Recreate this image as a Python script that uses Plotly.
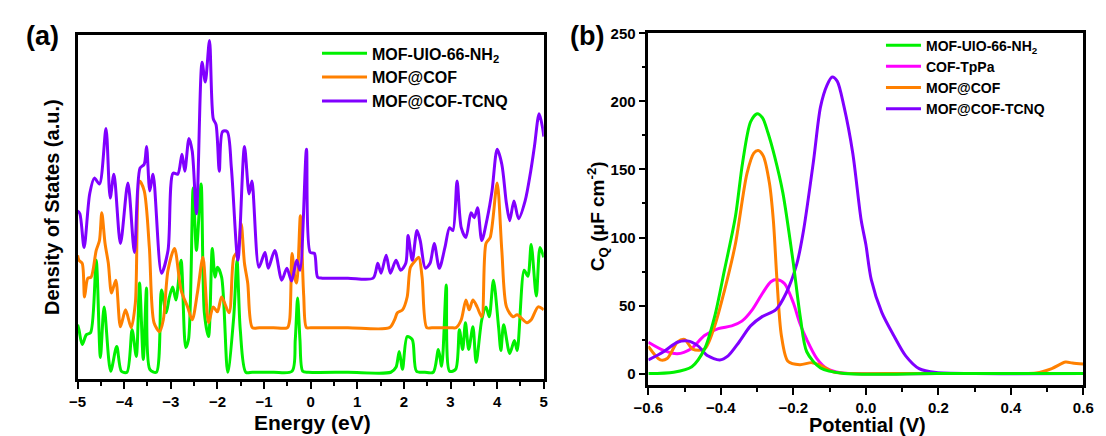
import plotly.graph_objects as go

W, H = 1106, 436

# ---------------- Panel (a): DOS ----------------
dos_green_E = [-5.00, -4.97, -4.90, -4.81, -4.72, -4.60, -4.51, -4.43, -4.29, -4.16, -4.06, -3.94, -3.83, -3.74,
               -3.67, -3.59, -3.52, -3.45, -3.31, -3.20, -3.10, -3.03, -2.96, -2.89, -2.78, -2.68, -2.62, -2.52,
               -2.45, -2.35, -2.28, -2.19, -2.11, -2.05, -2.00, -1.91, -1.78, -1.65, -1.58, -1.51, -1.39, -1.25,
               -0.80, -0.40, -0.33, -0.28, -0.23, -0.17, -0.05, 0.80, 1.72, 1.83, 1.90, 1.97, 2.07, 2.18, 2.27,
               2.45, 2.63, 2.74, 2.81, 2.91, 2.98, 3.11, 3.19, 3.26, 3.32, 3.39, 3.48, 3.55, 3.67, 3.76, 3.83,
               3.92, 4.03, 4.08, 4.14, 4.27, 4.37, 4.43, 4.58, 4.66, 4.73, 4.84, 4.92, 5.00]
dos_green_v = [55, 50, 35, 45, 47, 120, 22, 73, 8, 33, 8, 7, 50, 23,
               97, 20, 92, 10, 7, 90, 67, 83, 93, 80, 120, 32, 40, 193,
               130, 197, 67, 43, 132, 103, 113, 103, 7, 63, 120, 50, 7, 7,
               7, 8, 40, 82, 40, 8, 7, 7, 7, 12, 28, 10, 43, 40, 8,
               7, 7, 30, 13, 95, 8, 10, 50, 30, 57, 30, 53, 17, 60, 73, 63,
               100, 53, 29, 55, 26, 39, 29, 110, 104, 136, 84, 133, 123]

dos_orange_E = [-5.00, -4.97, -4.90, -4.85, -4.78, -4.71, -4.60, -4.53, -4.48, -4.41, -4.34, -4.27, -4.18, -4.08,
                -3.97, -3.85, -3.76, -3.67, -3.57, -3.46, -3.36, -3.24, -3.16, -3.06, -2.92, -2.78, -2.64, -2.54,
                -2.43, -2.31, -2.19, -2.09, -2.00, -1.91, -1.75, -1.65, -1.56, -1.49, -1.42, -1.35, -1.25, -1.10,
                -0.80, -0.50, -0.45, -0.40, -0.33, -0.30, -0.22, -0.15, -0.09, 0.00, 0.80, 1.69, 1.80, 1.86, 1.97,
                2.07, 2.14, 2.25, 2.32, 2.39, 2.49, 2.60, 3.00, 3.12, 3.23, 3.33, 3.40, 3.48, 3.57, 3.67, 3.76,
                3.85, 4.00, 4.10, 4.20, 4.34, 4.43, 4.64, 4.73, 4.88, 5.00]
dos_orange_v = [125, 120, 117, 83, 102, 103, 130, 140, 168, 137, 117, 87, 100, 53,
                70, 52, 77, 200, 190, 133, 57, 48, 60, 110, 132, 90, 73, 60,
                87, 123, 57, 73, 68, 83, 67, 123, 130, 157, 117, 97, 52, 52,
                52, 52, 60, 127, 100, 97, 165, 85, 52, 52, 52, 52, 60, 67, 70,
                83, 113, 120, 123, 103, 52, 52, 52, 52, 60, 80, 70, 80, 73, 63, 137,
                143, 198, 130, 73, 63, 65, 57, 60, 73, 70]

dos_purple_E = [-5.00, -4.95, -4.86, -4.74, -4.64, -4.53, -4.39, -4.30, -4.22, -4.08, -3.92, -3.78, -3.66, -3.57,
                -3.52, -3.45, -3.38, -3.20, -3.06, -2.95, -2.85, -2.76, -2.70, -2.61, -2.54, -2.45, -2.33, -2.26,
                -2.17, -2.09, -2.03, -1.96, -1.89, -1.79, -1.70, -1.56, -1.42, -1.32, -1.26, -1.11, -0.98, -0.91,
                -0.77, -0.62, -0.51, -0.41, -0.30, -0.23, -0.09, -0.01, 0.08, 0.15, 0.25, 0.80, 1.34, 1.44, 1.51,
                1.62, 1.71, 1.83, 1.93, 2.04, 2.09, 2.18, 2.28, 2.35, 2.46, 2.56, 2.65, 2.76, 2.88, 2.98, 3.05,
                3.14, 3.23, 3.33, 3.44, 3.51, 3.58, 3.67, 3.79, 3.89, 4.00, 4.10, 4.20, 4.27, 4.36, 4.46, 4.60,
                4.72, 4.80, 4.90, 4.97, 5.00]
dos_purple_v = [170, 167, 133, 187, 203, 197, 253, 183, 207, 137, 198, 128, 213, 217,
                235, 190, 207, 107, 130, 208, 207, 227, 210, 243, 230, 167, 320, 300,
                342, 263, 257, 210, 250, 250, 213, 120, 235, 187, 200, 113, 128, 112,
                130, 100, 112, 99, 120, 110, 232, 128, 127, 103, 102, 102, 102, 117, 107,
                125, 107, 120, 110, 117, 145, 120, 150, 140, 112, 117, 137, 112, 133, 153, 150,
                200, 153, 143, 168, 163, 173, 140, 163, 190, 232, 217, 177, 160, 180, 162, 180,
                210, 235, 268, 255, 245]

energy_ticks = list(range(-5, 6))

# ---------------- Panel (b): quantum capacitance ----------------
cq_green_V = [-0.60, -0.53, -0.48, -0.445, -0.417, -0.39, -0.36, -0.34, -0.318, -0.30, -0.285, -0.27, -0.252,
              -0.229, -0.20, -0.18, -0.163, -0.125, -0.06, 0.20, 0.60]
cq_green_y = [0, 1, 5, 18, 42, 76, 115, 155, 185, 191, 188, 177, 160,
              133, 81, 40, 16, 4, 0, 0, 0]

cq_magenta_V = [-0.60, -0.558, -0.52, -0.483, -0.445, -0.407, -0.37, -0.342, -0.313, -0.285, -0.262, -0.243,
                -0.224, -0.20, -0.182, -0.163, -0.135, -0.107, -0.07, 0.20, 0.60]
cq_magenta_y = [23, 17, 14.5, 18, 28, 33, 35, 38.5, 47, 59, 67.5, 69,
                66, 52, 37, 25, 11, 3.6, 0.5, 0, 0]

cq_orange_V = [-0.60, -0.567, -0.548, -0.52, -0.50, -0.478, -0.445, -0.417, -0.39, -0.36, -0.328, -0.309,
               -0.297, -0.283, -0.266, -0.255, -0.245, -0.233, -0.215, -0.182, -0.149, -0.125, -0.088, -0.04,
               0.10, 0.25, 0.40, 0.47, 0.513, 0.551, 0.57, 0.60]
cq_orange_y = [20, 10, 11, 23, 25, 18, 18, 35, 61, 95, 147, 162,
               164, 160, 140, 112, 68, 28, 9, 6.5, 8, 6, 1, 0,
               0, 0, 0, 0.3, 3.6, 8.4, 7.7, 7]

cq_purple_V = [-0.60, -0.558, -0.52, -0.492, -0.464, -0.436, -0.403, -0.38, -0.35, -0.318, -0.285, -0.248,
               -0.22, -0.19, -0.172, -0.144, -0.125, -0.107, -0.093, -0.079, -0.06, -0.036, -0.013, 0.0,
               0.015, 0.044, 0.077, 0.11, 0.147, 0.194, 0.30, 0.60]
cq_purple_y = [10, 16, 23, 24, 20.5, 13, 10, 13, 23, 35, 42, 47,
               59, 81, 105, 157, 196, 212, 218, 215, 196, 162, 113, 95,
               69, 45, 28, 13, 3.6, 0.7, 0, 0]

pot_ticks = [-0.6, -0.4, -0.2, 0.0, 0.2, 0.4, 0.6]
cq_ticks = [0, 50, 100, 150, 200, 250]

GREEN = "#00F000"
ORANGE = "#FF8000"
PURPLE = "#8000FF"
MAGENTA = "#FF00FF"
FONT = "Arial"


def px(x):
    return x / W


def py(y):
    return 1 - y / H


fig = go.Figure()
lw = 3
spl = dict(width=lw, shape="spline", smoothing=0.8)

fig.add_trace(go.Scatter(x=dos_green_E, y=dos_green_v, mode="lines", name="MOF-UIO-66-NH<sub>2</sub>",
                         line=dict(color=GREEN, **spl), xaxis="x", yaxis="y", legend="legend"))
fig.add_trace(go.Scatter(x=dos_orange_E, y=dos_orange_v, mode="lines", name="MOF@COF",
                         line=dict(color=ORANGE, **spl), xaxis="x", yaxis="y", legend="legend"))
fig.add_trace(go.Scatter(x=dos_purple_E, y=dos_purple_v, mode="lines", name="MOF@COF-TCNQ",
                         line=dict(color=PURPLE, **spl), xaxis="x", yaxis="y", legend="legend"))

fig.add_trace(go.Scatter(x=cq_magenta_V, y=cq_magenta_y, mode="lines", name="COF-TpPa", legendrank=2,
                         line=dict(color=MAGENTA, **spl), xaxis="x2", yaxis="y2", legend="legend2"))
fig.add_trace(go.Scatter(x=cq_orange_V, y=cq_orange_y, mode="lines", name="MOF@COF", legendrank=3,
                         line=dict(color=ORANGE, **spl), xaxis="x2", yaxis="y2", legend="legend2"))
fig.add_trace(go.Scatter(x=cq_purple_V, y=cq_purple_y, mode="lines", name="MOF@COF-TCNQ", legendrank=4,
                         line=dict(color=PURPLE, **spl), xaxis="x2", yaxis="y2", legend="legend2"))
fig.add_trace(go.Scatter(x=cq_green_V, y=cq_green_y, mode="lines", name="MOF-UIO-66-NH<sub>2</sub>", legendrank=1,
                         line=dict(color=GREEN, **spl), xaxis="x2", yaxis="y2", legend="legend2"))

tickfont = dict(family=FONT, size=15, color="black", weight="bold")
axcommon = dict(showline=True, linecolor="black", linewidth=2.5, mirror=True, showgrid=False,
                zeroline=False, ticks="outside", tickcolor="black", tickwidth=2, ticklen=7,
                tickfont=tickfont)

fig.update_layout(
    width=W, height=H, margin=dict(l=0, r=0, t=0, b=0),
    paper_bgcolor="white", plot_bgcolor="white", showlegend=True,
    xaxis=dict(domain=[px(64), px(541)], range=[-5, 5], tickvals=energy_ticks,
               minor=dict(dtick=0.5, ticks="outside", ticklen=4, tickwidth=2, tickcolor="black"),
               anchor="y", **axcommon),
    yaxis=dict(domain=[py(378), py(27)], range=[0, 347], showline=True, linecolor="black", linewidth=2.5,
               mirror=True, showgrid=False, zeroline=False, ticks="", showticklabels=False, anchor="x"),
    xaxis2=dict(domain=[px(648), px(1093)], range=[-0.6, 0.6], tickvals=pot_ticks, tickformat=".1f",
                minor=dict(dtick=0.1, ticks="outside", ticklen=4, tickwidth=2, tickcolor="black"),
                anchor="y2", **axcommon),
    yaxis2=dict(domain=[py(384), py(25)], range=[-8.5, 250], tickvals=cq_ticks,
                minor=dict(dtick=25, ticks="outside", ticklen=4, tickwidth=2, tickcolor="black"),
                anchor="x2", **axcommon),
    legend=dict(x=px(309), y=py(28), xanchor="left", yanchor="top", bgcolor="rgba(0,0,0,0)",
                font=dict(family=FONT, size=16, color="black", weight="bold"), itemwidth=45),
    legend2=dict(x=px(886), y=py(21), xanchor="left", yanchor="top", bgcolor="rgba(0,0,0,0)",
                 font=dict(family=FONT, size=14, color="black", weight="bold"), itemwidth=35),
)

ann_font = dict(family=FONT, color="black", weight="bold")
annotations = [
    dict(text="(a)", x=px(28), y=py(28), font=dict(size=27, **ann_font)),
    dict(text="(b)", x=px(585), y=py(28), font=dict(size=27, **ann_font)),
    dict(text="Energy (eV)", x=px(304), y=py(422), font=dict(size=21, **ann_font)),
    dict(text="Potential (V)", x=px(872), y=py(425), font=dict(size=20, **ann_font)),
    dict(text="Density of States (a.u.)", x=px(38), y=py(202), textangle=-90, font=dict(size=20, **ann_font)),
    dict(text="C<sub>Q</sub> (μF cm<sup>-2</sup>)", x=px(596), y=py(212), textangle=-90,
         font=dict(size=19, **ann_font)),
]
for a in annotations:
    a.update(xref="paper", yref="paper", showarrow=False, xanchor="center", yanchor="middle")
fig.update_layout(annotations=annotations)

fig.write_html("out.html", config={"displayModeBar": False},
               post_script="document.body.style.margin='0';document.body.style.overflow='hidden';")
